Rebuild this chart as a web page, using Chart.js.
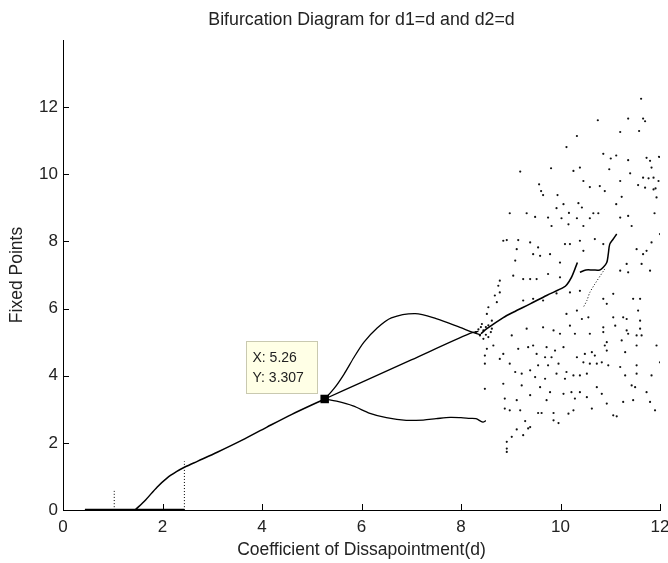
<!DOCTYPE html>
<html>
<head>
<meta charset="utf-8">
<title>Bifurcation Diagram</title>
<script src="https://cdn.jsdelivr.net/npm/chart.js@4.4.1/dist/chart.umd.min.js"></script>
<style>
  html, body { margin: 0; padding: 0; background: #fff; }
  #wrap { width: 668px; height: 563px; }
</style>
</head>
<body>
<div id="wrap"><canvas id="bif" width="668" height="563"></canvas></div>
<script>
// ---- data ----
const xTicks = [0, 2, 4, 6, 8, 10, 12];
const yTicks = [0, 2, 4, 6, 8, 10, 12];

// flat zero branch and the two dotted spikes
const zeroX = [0.44, 2.44];
const zeroY = [0, 0];
const spike1X = [1.03, 1.03];
const spike1Y = [0, 0.6];
const spike2X = [2.44, 2.44];
const spike2Y = [0, 1.45];

// stable branch up to the marked point
const stableX = [1.45, 1.66, 1.89, 2.09, 2.28, 2.45, 2.7, 3.1, 3.6, 4.1, 4.6, 5.26];
const stableY = [0, 0.3, 0.68, 0.95, 1.14, 1.28, 1.45, 1.72, 2.08, 2.47, 2.85, 3.307];

// after the split at d = 5.26
const midX = [5.26, 6.0, 7.0, 8.18, 8.35];
const midY = [3.307, 3.8, 4.47, 5.26, 5.32];
const upperX = [5.26, 5.45, 5.65, 5.85, 6.05, 6.3, 6.6, 7.08, 7.5, 7.98, 8.24, 8.4];
const upperY = [3.307, 3.62, 4.05, 4.55, 5.0, 5.4, 5.72, 5.85, 5.7, 5.44, 5.29, 5.22];
const lowerX = [5.26, 5.5, 5.83, 6.17, 6.5, 6.9, 7.24, 7.5, 7.78, 8.0, 8.18, 8.3, 8.44, 8.5];
const lowerY = [3.307, 3.24, 3.1, 2.88, 2.75, 2.67, 2.68, 2.72, 2.76, 2.75, 2.73, 2.72, 2.62, 2.66];

// branch continuing through the cloud
const riseX = [8.4, 8.52, 8.85, 9.05, 9.39, 9.72, 10.06, 10.13, 10.22, 10.29, 10.34];
const riseY = [5.25, 5.4, 5.73, 5.89, 6.14, 6.39, 6.63, 6.72, 6.93, 7.18, 7.37];
const hookX = [10.39, 10.51, 10.65, 10.79, 10.86, 10.93, 10.96, 10.99, 11.05, 11.13];
const hookY = [7.08, 7.15, 7.15, 7.15, 7.23, 7.37, 7.62, 7.92, 8.05, 8.22];
const dropX = [10.89, 10.69, 10.59, 10.53, 10.46];
const dropY = [7.18, 6.73, 6.48, 6.24, 6.04];

// tangle where the branches meet
const tangleX = [8.3, 8.35, 8.4, 8.45, 8.5, 8.55, 8.6, 8.45, 8.38, 8.5, 8.55, 8.62, 8.42, 8.52, 8.55, 8.62];
const tangleY = [5.3, 5.38, 5.45, 5.35, 5.22, 5.15, 5.3, 5.1, 5.2, 5.45, 5.5, 5.4, 5.54, 5.84, 6.04, 5.64];

// chaotic cloud, top band
const cloudTopX = [11.62, 10.75, 11.36, 11.66, 11.70, 11.20, 11.58, 10.33, 10.12, 10.86, 11.01, 11.12, 11.36,
  10.98, 10.39, 10.26, 9.19, 9.81, 11.73, 11.80, 11.83, 11.98, 11.40, 11.20, 9.57, 9.61, 9.65, 10.46, 10.59,
  10.79, 10.89, 11.66, 11.77, 11.87, 11.97, 11.70, 11.87, 11.91, 11.56, 11.93, 9.94, 11.23, 10.06, 10.36,
  10.43, 11.12, 9.92, 8.98, 9.32, 10.66, 10.76, 11.89, 10.17];
const cloudTopY = [12.25, 11.61, 11.66, 11.66, 11.58, 11.26, 11.29, 11.14, 10.81, 10.61, 10.47, 10.56, 10.42,
  10.15, 10.20, 10.10, 10.08, 10.18, 10.49, 10.40, 10.20, 10.52, 10.03, 9.80, 9.70, 9.50, 9.38, 9.80, 9.62,
  9.65, 9.50, 9.90, 9.88, 9.90, 9.80, 9.60, 9.55, 9.58, 9.68, 9.31, 9.38, 9.33, 9.11, 9.14,
  9.01, 9.11, 8.99, 8.84, 8.84, 8.84, 8.84, 8.84, 8.85];

// chaotic cloud, middle band
const cloudMidX = [9.49, 9.75, 10.02, 10.33, 10.59, 11.20, 11.36, 11.43, 10.16, 10.46, 9.82, 12.0, 8.92, 9.15,
  9.39, 9.55, 10.09, 10.19, 10.39, 10.69, 10.86, 11.83, 11.73, 11.53, 9.45, 9.59, 9.09, 9.79, 9.99, 10.46,
  11.33, 11.66, 11.80, 11.63, 9.05, 9.25, 9.39, 9.52, 9.75, 9.99, 11.20, 11.36, 8.75, 8.78, 9.25, 9.45,
  9.65, 9.92, 10.19, 10.39, 10.86, 11.06, 11.46, 11.60, 10.12, 10.33, 10.43, 10.56, 10.93, 11.06, 11.26,
  11.33, 11.56, 11.60, 9.32, 9.65, 9.86, 10.19, 10.86, 11.10, 11.33, 11.36, 11.60, 10.59, 10.29, 8.78,
  8.68, 8.72, 8.85, 9.12];
const cloudMidY = [8.73, 8.71, 8.69, 8.69, 8.69, 8.71, 8.76, 8.46, 8.51, 8.46, 8.46, 8.22, 8.04, 8.04,
  7.97, 7.82, 7.92, 7.92, 8.02, 8.07, 7.92, 7.97, 7.72, 7.77, 7.62, 7.57, 7.43, 7.62, 7.37, 7.72,
  7.33, 7.62, 7.13, 7.33, 6.98, 6.88, 6.88, 6.88, 7.03, 6.93, 7.13, 7.08, 6.68, 6.48, 6.24, 6.29,
  6.24, 6.45, 6.48, 6.53, 6.29, 6.44, 6.29, 6.29, 5.84, 5.94, 5.69, 5.74, 6.14, 5.74, 5.74,
  5.69, 5.94, 5.64, 5.40, 5.44, 5.35, 5.49, 5.44, 5.49, 5.35, 5.25, 5.40, 5.25, 5.25, 6.83,
  6.39, 6.19, 8.02, 7.77];

// chaotic cloud, low band
const cloudLowX = [9.02, 9.99, 10.86, 11.53, 11.63, 8.48, 8.52, 8.65, 8.85, 8.78, 8.48, 9.15, 9.35, 9.45,
  9.52, 9.72, 9.89, 10.06, 9.82, 9.69, 10.33, 10.49, 10.63, 10.69, 10.46, 10.59, 10.73, 10.83, 10.93,
  10.93, 10.89, 11.23, 11.53, 11.93, 12.0, 11.30, 10.96, 8.98, 9.09, 9.22, 9.39, 9.55, 9.75, 9.96,
  10.12, 10.26, 9.92, 9.69, 9.49, 10.09, 10.39, 10.53, 11.20, 11.53, 11.53, 11.30, 11.83, 8.48, 8.85,
  9.22, 9.59, 9.79, 10.06, 10.22, 10.39, 10.73, 10.53, 10.83, 11.43, 11.50, 11.73, 8.88, 9.12, 9.39,
  9.72, 10.29, 10.93, 11.26, 11.46, 11.80, 11.90, 8.88, 8.98, 9.19, 9.55, 9.62, 9.86, 10.16, 10.26,
  10.63, 9.86, 9.96, 11.06, 11.13, 9.29, 9.12, 9.35, 9.39, 9.25, 9.02, 8.92, 8.92, 8.92];
const cloudLowY = [5.20, 5.25, 5.30, 5.20, 5.20, 4.60, 4.80, 4.90, 4.65, 4.50, 4.36, 4.80, 4.85, 4.90,
  4.65, 4.85, 4.75, 4.85, 4.55, 4.55, 4.55, 4.65, 4.70, 4.60, 4.40, 4.36, 4.36, 4.40, 4.75,
  5.00, 4.90, 5.05, 4.90, 4.90, 4.40, 4.70, 4.31, 4.36, 4.11, 4.06, 4.16, 4.31, 4.31, 4.36,
  4.11, 4.01, 4.06, 3.91, 3.96, 3.91, 4.01, 4.06, 4.26, 4.31, 4.06, 4.01, 4.01, 3.61, 3.76,
  3.71, 3.66, 3.51, 3.46, 3.51, 3.51, 3.66, 3.36, 3.46, 3.71, 3.66, 3.51, 3.32, 3.27, 3.42,
  3.27, 3.32, 3.17, 3.22, 3.27, 3.22, 2.97, 3.02, 2.97, 2.97, 2.89, 2.89, 2.89, 2.87, 2.97,
  3.02, 2.67, 2.59, 2.82, 2.79, 2.65, 2.40, 2.43, 2.47, 2.23, 2.18, 2.03, 1.83, 1.73];

// data cursor
const tipX = 5.26;
const tipY = 3.307;

const titleText = 'Bifurcation Diagram for d1=d and d2=d';

// ---- helpers ----
function pts(xs, ys) {
    return xs.map((v, i) => ({ x: v, y: ys[i] }));
}

function curve(xs, ys, width, dash) {
    return {
        data: pts(xs, ys),
        showLine: true,
        borderColor: '#000',
        borderWidth: width,
        borderDash: dash || [],
        pointRadius: 0,
        tension: 0.3
    };
}

function dots(xs, ys, r) {
    return {
        data: pts(xs, ys),
        showLine: false,
        backgroundColor: '#111',
        borderWidth: 0,
        pointRadius: r
    };
}

const FONT = "'Liberation Sans', Arial, sans-serif";

// title centred over the axes, like MATLAB does
const axesTitle = {
    id: 'axesTitle',
    afterDraw(chart) {
        const { ctx, chartArea } = chart;
        ctx.save();
        ctx.fillStyle = '#222';
        ctx.font = '17.8px ' + FONT;
        ctx.textAlign = 'center';
        ctx.textBaseline = 'middle';
        ctx.fillText(titleText, (chartArea.left + chartArea.right) / 2, 20);
        ctx.restore();
    }
};

// MATLAB style ticks pointing into the axes
const inwardTicks = {
    id: 'inwardTicks',
    afterDraw(chart) {
        const { ctx, scales: { x, y } } = chart;
        ctx.save();
        ctx.strokeStyle = '#000';
        ctx.lineWidth = 1;
        ctx.beginPath();
        x.ticks.forEach(t => {
            const px = Math.round(x.getPixelForValue(t.value)) + 0.5;
            ctx.moveTo(px, y.bottom);
            ctx.lineTo(px, y.bottom - 6);
        });
        y.ticks.forEach(t => {
            const py = Math.round(y.getPixelForValue(t.value)) + 0.5;
            ctx.moveTo(x.left, py);
            ctx.lineTo(x.left + 6, py);
        });
        ctx.stroke();
        ctx.restore();
    }
};

// yellow data tip next to the marker
const dataTip = {
    id: 'dataTip',
    afterDatasetsDraw(chart) {
        const { ctx, scales: { x, y } } = chart;
        const mx = x.getPixelForValue(tipX);
        const my = y.getPixelForValue(tipY);
        const w = 71, h = 52;
        const bx = Math.round(mx - 8 - w) + 0.5;
        const by = Math.round(my - 6 - h) + 0.5;
        ctx.save();
        ctx.fillStyle = '#ffffe6';
        ctx.strokeStyle = '#c9c9b0';
        ctx.lineWidth = 1;
        ctx.fillRect(bx, by, w, h);
        ctx.strokeRect(bx, by, w, h);
        ctx.fillStyle = '#222';
        ctx.font = '14px ' + FONT;
        ctx.textBaseline = 'middle';
        ctx.fillText('X: ' + tipX, bx + 6, by + 17);
        ctx.fillText('Y: ' + tipY, bx + 6, by + 37);
        ctx.restore();
    }
};

const cfg = {
    type: 'scatter',
    data: {
        datasets: [
            curve(zeroX, zeroY, 2.5),
            curve(spike1X, spike1Y, 1, [1, 2]),
            curve(spike2X, spike2Y, 1, [1, 2]),
            curve(stableX, stableY, 1.5),
            curve(midX, midY, 1.3),
            curve(upperX, upperY, 1.3),
            curve(lowerX, lowerY, 1.3),
            curve(riseX, riseY, 1.6),
            curve(hookX, hookY, 1.5),
            curve(dropX, dropY, 1, [1, 2]),
            dots(tangleX, tangleY, 1.1),
            dots(cloudTopX, cloudTopY, 1.1),
            dots(cloudMidX, cloudMidY, 1.1),
            dots(cloudLowX, cloudLowY, 1.1),
            {
                data: [{ x: tipX, y: tipY }],
                pointStyle: 'rect',
                pointRadius: 6,
                backgroundColor: '#000',
                borderColor: '#000',
                borderWidth: 0
            }
        ]
    },
    options: {
        responsive: false,
        animation: false,
        events: [],
        layout: { padding: { left: 0, right: 8, top: 40, bottom: 0 } },
        plugins: {
            legend: { display: false },
            tooltip: { enabled: false },
            title: { display: false }
        },
        scales: {
            x: {
                type: 'linear',
                min: 0,
                max: 12,
                afterBuildTicks: s => { s.ticks = xTicks.map(v => ({ value: v })); },
                afterFit: s => { s.height = 53; s.paddingLeft = 0; s.paddingRight = 0; },
                grid: { display: false, drawTicks: false },
                border: { display: true, color: '#000', width: 1 },
                ticks: { color: '#222', padding: 7, font: { family: FONT, size: 17 } },
                title: {
                    display: true,
                    text: 'Coefficient of Dissapointment(d)',
                    color: '#222',
                    font: { family: FONT, size: 17.5 },
                    padding: { top: 0, bottom: 2 }
                }
            },
            y: {
                type: 'linear',
                min: 0,
                max: 14,
                afterBuildTicks: s => { s.ticks = yTicks.map(v => ({ value: v })); },
                afterFit: s => { s.width = 63; s.paddingTop = 0; s.paddingBottom = 0; },
                grid: { display: false, drawTicks: false },
                border: { display: true, color: '#000', width: 1 },
                ticks: { color: '#222', padding: 5, font: { family: FONT, size: 17 } },
                title: {
                    display: true,
                    text: 'Fixed Points',
                    color: '#222',
                    font: { family: FONT, size: 17.5 },
                    padding: { top: 7, bottom: 0 }
                }
            }
        }
    },
    plugins: [axesTitle, inwardTicks, dataTip]
};

new Chart(document.getElementById('bif'), cfg);
</script>
</body>
</html>
